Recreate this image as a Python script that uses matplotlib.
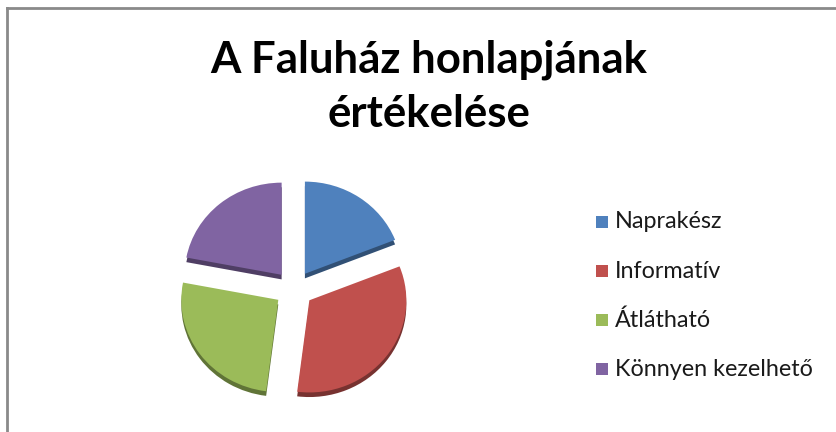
import matplotlib
matplotlib.use("Agg")
import matplotlib.pyplot as plt
from matplotlib.patches import Rectangle
from matplotlib.lines import Line2D
import matplotlib.colors as mcolors

# ---- data ----
title_lines = ["A Faluház honlapjának", "értékelése"]
categories = ["Naprakész", "Informatív", "Átlátható", "Könnyen kezelhető"]
values = [19, 33, 26, 22]
colors = ["#4F81BD", "#C0504D", "#9BBB59", "#8064A2"]

W, H = 837, 432
fig = plt.figure(figsize=(W / 100, H / 100), dpi=100)
fig.patch.set_facecolor("white")

# chart frame (top and left edges visible)
fig.add_artist(Line2D([7.5 / W, 7.5 / W], [0, 1 - 8 / H], transform=fig.transFigure,
                      color="#8a8a8a", lw=2))
fig.add_artist(Line2D([7.5 / W, 1], [1 - 8 / H, 1 - 8 / H], transform=fig.transFigure,
                      color="#8a8a8a", lw=2))

# title (two lines, baselines placed separately)
for line, base in zip(title_lines, [73, 127]):
    fig.text(429 / W, 1 - base / H, line, ha="center", va="baseline", fontsize=31.5,
             fontweight="bold", family="Lato", color="black")

# pie
cx, cy = 294, 289
half = 130
r_px = 97
squash = 0.95
ax = fig.add_axes([(cx - half) / W, (H - cy - half) / H, 2 * half / W, 2 * half / H])
explode = [0.2] * len(values)
dark = [tuple(c * 0.62 for c in mcolors.to_rgb(col)) for col in colors]
ax.pie(values, colors=dark, startangle=90, counterclock=False, explode=explode,
       center=(0, -0.05), wedgeprops=dict(linewidth=0))
ax.pie(values, colors=colors, startangle=90, counterclock=False, explode=explode,
       wedgeprops=dict(linewidth=0))
lim = half / r_px
ax.set_xlim(-lim, lim)
ax.set_ylim(-lim / squash, lim / squash)
ax.set_aspect("auto")
ax.axis("off")

# legend
ys = [222, 271, 320, 369]
for cat, col, y in zip(categories, colors, ys):
    fig.add_artist(Rectangle((596 / W, 1 - (y + 6) / H), 12 / W, 12 / H,
                             transform=fig.transFigure, facecolor=col, edgecolor="none"))
    fig.text(615 / W, 1 - y / H, cat, ha="left", va="center", fontsize=16.8,
             family="Lato", color="#1a1a1a")

fig.savefig("out.png", dpi=100)
